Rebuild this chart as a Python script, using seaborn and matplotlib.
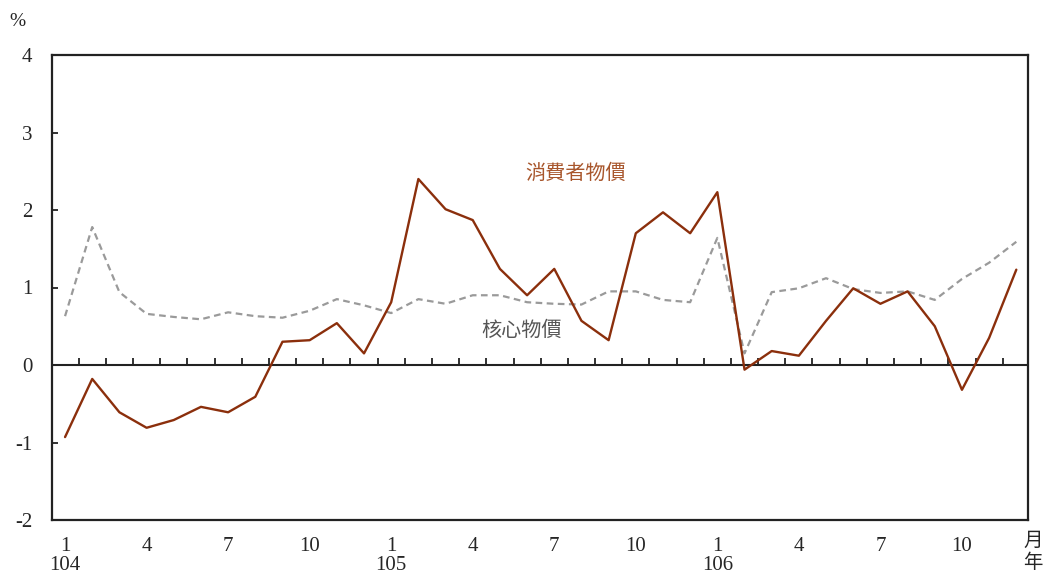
import numpy as np
import pandas as pd
import matplotlib
matplotlib.use('Agg')
import matplotlib.pyplot as plt
import seaborn as sns

# monthly data, 104/1 .. 106/12
months = [1, 2, 3, 4, 5, 6, 7, 8, 9, 10, 11, 12] * 3
years = [104] * 12 + [105] * 12 + [106] * 12
cpi = [-0.93, -0.18, -0.61, -0.81, -0.71, -0.54, -0.61, -0.41, 0.30, 0.32, 0.54, 0.15,
       0.81, 2.40, 2.01, 1.87, 1.24, 0.90, 1.24, 0.57, 0.32, 1.70, 1.97, 1.70,
       2.23, -0.06, 0.18, 0.12, 0.57, 0.99, 0.79, 0.95, 0.50, -0.32, 0.35, 1.23]
core = [0.63, 1.78, 0.94, 0.66, 0.62, 0.59, 0.68, 0.63, 0.61, 0.70, 0.85, 0.77,
        0.67, 0.85, 0.79, 0.90, 0.90, 0.81, 0.79, 0.78, 0.95, 0.95, 0.84, 0.81,
        1.64, 0.15, 0.94, 0.99, 1.12, 0.98, 0.93, 0.95, 0.84, 1.11, 1.32, 1.59]
yticks = [-2, -1, 0, 1, 2, 3, 4]

df = pd.DataFrame({'t': range(len(cpi)), 'cpi': cpi, 'core': core,
                   'month': months, 'year': years})

sns.set_theme(style='white')
plt.rcParams['font.family'] = ['Liberation Serif', 'Noto Sans CJK TC']
cjk = ['Noto Sans CJK TC']

fig = plt.figure(figsize=(10.43, 5.75), dpi=100)
ax = fig.add_axes([52/1043, 1-520/575, (1028-52)/1043, (520-55)/575])

sns.lineplot(x='t', y='core', data=df, ax=ax, color='#9a9a9a', lw=1.6,
             linestyle=(0, (3, 2)))
sns.lineplot(x='t', y='cpi', data=df, ax=ax, color='#8b2f0c', lw=1.7)
ax.axhline(0, color='#222222', lw=1.5, zorder=1)

ax.set_xlim(-0.48, 35.43)
ax.set_ylim(-2, 4)
ax.set_xlabel('')
ax.set_ylabel('')

for s in ax.spines.values():
    s.set_color('#222222')
    s.set_linewidth(1.6)

ax.set_yticks(yticks)
ax.set_yticklabels([str(v) for v in yticks])
ax.tick_params(axis='y', direction='in', length=4, width=1.3, color='#222222',
               pad=14, labelsize=15, left=True)

# labels every 3 months, year under January
tick_idx = df.index[(df['month'] - 1) % 3 == 0]
labels = [f"{m}\n{y}" if m == 1 else f"{m}"
          for m, y in zip(df.loc[tick_idx, 'month'], df.loc[tick_idx, 'year'])]
ax.set_xticks(tick_idx)
ax.set_xticklabels(labels, linespacing=1.0, va='top')
ax.tick_params(axis='x', length=0, pad=12, labelsize=15)

# tick marks on the zero line, between months
sec = ax.secondary_xaxis(1/3)
sec.set_xticks(np.arange(len(cpi) - 1) + 0.5)
sec.tick_params(direction='in', length=5, width=1.3, color='#222222', labelbottom=False)
sec.spines['bottom'].set_visible(False)

fig.text(576/1043, 1-173/575, '消費者物價', color='#a8562c', fontsize=14.5,
         family=cjk, ha='center', va='center')
fig.text(522/1043, 1-330/575, '核心物價', color='#555555', fontsize=14.5,
         family=cjk, ha='center', va='center')
fig.text(17/1043, 1-22/575, '%', fontsize=14, ha='center', va='center')
fig.text(1033/1043, 1-540/575, '月', fontsize=14, family=cjk, ha='center', va='center')
fig.text(1033/1043, 1-562/575, '年', fontsize=14, family=cjk, ha='center', va='center')

fig.savefig('out.png', dpi=100)
